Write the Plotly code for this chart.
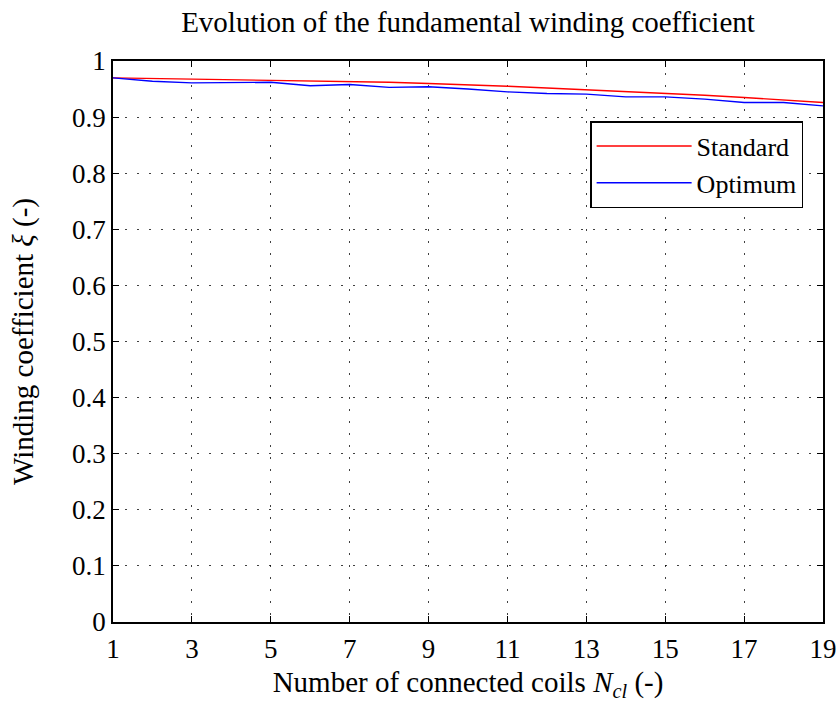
import plotly.graph_objects as go

# Number of connected coils
n_coils = list(range(1, 20))

# Fundamental winding coefficient for each connection scheme
xi_standard = [0.970, 0.969, 0.968, 0.967, 0.966, 0.965, 0.964, 0.962, 0.960, 0.958,
               0.955, 0.952, 0.949, 0.946, 0.943, 0.939, 0.935, 0.931, 0.926]
xi_optimum = [0.970, 0.964, 0.961, 0.962, 0.962, 0.956, 0.958, 0.953, 0.954, 0.950,
              0.945, 0.942, 0.941, 0.936, 0.936, 0.932, 0.926, 0.926, 0.920]

x_ticks = [1, 3, 5, 7, 9, 11, 13, 15, 17, 19]
y_ticks = [0, 0.1, 0.2, 0.3, 0.4, 0.5, 0.6, 0.7, 0.8, 0.9, 1]
y_ticktext = ["0", "0.1", "0.2", "0.3", "0.4", "0.5", "0.6", "0.7", "0.8", "0.9", "1"]

FONT = "Liberation Serif"

fig = go.Figure()
fig.add_trace(go.Scatter(x=n_coils, y=xi_standard, mode="lines", name="Standard",
                         line=dict(color="#ff0000", width=1.4)))
fig.add_trace(go.Scatter(x=n_coils, y=xi_optimum, mode="lines", name="Optimum",
                         line=dict(color="#0000ff", width=1.4)))

axis_common = dict(
    showline=True, linecolor="black", linewidth=1.5, mirror="ticks",
    ticks="inside", ticklen=6, tickwidth=1, tickcolor="black",
    showgrid=True, gridcolor="rgba(0,0,0,0.75)", gridwidth=1, griddash="1.5px,10.5px",
    zeroline=False, automargin=False,
    tickfont=dict(family=FONT, size=27, color="black"),
)

fig.update_layout(
    width=839, height=702,
    margin=dict(l=113, r=16, t=61, b=80),
    paper_bgcolor="white", plot_bgcolor="white",
    font=dict(family=FONT, color="black"),
    title=dict(text="Evolution of the fundamental winding coefficient",
               x=(113 + 823) / 2 / 839, xanchor="center", y=1 - 22 / 702, yanchor="middle",
               font=dict(family=FONT, size=29, color="black")),
    xaxis=dict(range=[1, 19], tickvals=x_ticks, ticktext=[str(v) for v in x_ticks],
               title=dict(text="Number of connected coils <i>N<sub>cl</sub></i> (-)",
                          font=dict(family=FONT, size=29), standoff=10),
               ticklabelstandoff=2,
               **axis_common),
    yaxis=dict(range=[0, 1], tickvals=y_ticks, ticktext=y_ticktext,
               title=dict(text="Winding coefficient <i>ξ</i> (-)",
                          font=dict(family=FONT, size=29), standoff=30),
               **axis_common),
    legend=dict(x=0.672, y=0.893, xanchor="left", yanchor="top",
                bgcolor="white", bordercolor="black", borderwidth=1.5,
                font=dict(family=FONT, size=26, color="black"),
                itemwidth=95, tracegroupgap=0),
    showlegend=True,
)

fig.write_html("out.html")
